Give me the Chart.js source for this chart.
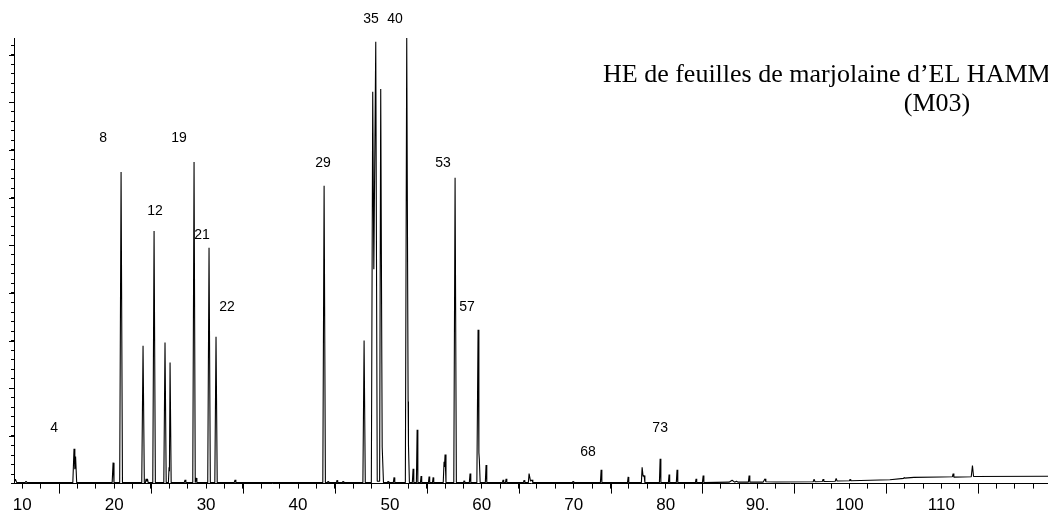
<!DOCTYPE html>
<html lang="fr">
  <head>
    <meta charset="UTF-8" />
    <title>HE de feuilles de marjolaine (M03)</title>
    <script src="https://cdn.jsdelivr.net/npm/chart.js"></script>
    <style>
      html, body {
        margin: 0;
        padding: 0;
        background: #fff;
        overflow: hidden;
      }
      canvas {
        display: block;
      }
    </style>
  </head>
  <body>
    <canvas id="chromChart" width="1048" height="523"></canvas>

    <script>
      // Retention time (min) and signal
      const rt = [
        9.1, 9.25, 9.4, 10.3, 10.41, 10.52,
        15.5, 15.63, 15.72, 15.8, 15.92, 19.78, 19.88, 19.98,
        20.6, 20.75, 20.9, 23.0, 23.14, 23.28, 23.4, 23.47, 23.55, 23.62, 23.7,
        24.2, 24.34, 24.48, 25.4, 25.53, 25.66, 25.9, 25.97, 26.01, 26.08, 26.2,
        27.62, 27.71, 27.8, 28.55, 28.69, 28.82, 28.91, 29.0, 30.18, 30.32, 30.46, 30.95, 31.08, 31.21, 33.06, 33.15, 33.24,
        42.7, 42.84, 42.98, 43.2, 43.27, 43.34, 44.18, 44.25, 44.32, 44.82, 44.9, 44.98,
        47.06, 47.19, 47.32, 47.98, 48.13, 48.25, 48.46, 48.62, 48.88, 49.0, 49.12, 49.16, 49.3,
        49.72, 49.8, 49.88, 50.37, 50.45, 50.53,
        51.68, 51.83, 51.98, 52.02, 52.12, 52.44, 52.52, 52.6, 52.88, 52.96, 53.04, 53.32, 53.39, 53.46,
        54.19, 54.26, 54.33, 54.63, 54.7, 54.77, 55.8, 55.89, 55.94, 56.0, 56.1,
        56.95, 57.09, 57.23, 58.0, 58.07, 58.14, 58.64, 58.72, 58.8,
        59.46, 59.59, 59.68, 59.73, 59.82, 60.38, 60.46, 60.54,
        62.24, 62.31, 62.38, 62.57, 62.64, 62.72, 64.52, 64.6, 64.68, 65.06, 65.14, 65.3, 65.47, 65.55,
        69.85, 69.93, 70.0, 72.9, 72.98, 73.06, 75.85, 75.92, 75.99,
        77.36, 77.44, 77.55, 77.66, 77.74, 79.32, 79.4, 79.48, 80.3, 80.37, 80.44, 81.16, 81.24, 81.32,
        83.24, 83.31, 83.38, 84.0, 84.08, 84.16, 86.9, 87.23, 87.5, 87.7, 87.9,
        89.0, 89.08, 89.16, 90.6, 90.75, 90.82, 90.9, 92.0,
        96.05, 96.15, 96.25, 97.05, 97.13, 97.21, 98.45, 98.55, 98.65, 100.0, 100.07, 100.14,
        104.4, 105.9, 105.95, 106.0, 107.0, 110.0, 111.2, 111.28, 111.36, 113.25, 113.38, 113.5, 121.6
      ];
      const abundance = [
        0.2, 0.9, 0.2, 0.2, 0.5, 0.2,
        0.2, 7.3, 3.0, 5.7, 0.2, 0.2, 4.4, 0.2,
        0.2, 65.4, 0.2, 0.2, 28.9, 0.2, 0.2, 1.0, 0.5, 1.0, 0.2,
        0.2, 53.0, 0.2, 0.2, 29.6, 0.2, 0.2, 3.4, 2.6, 25.4, 0.2,
        0.2, 0.8, 0.2, 0.2, 67.5, 0.2, 1.2, 0.2, 0.2, 49.5, 0.2, 0.2, 30.8, 0.2, 0.2, 0.8, 0.2,
        0.2, 62.5, 0.2, 0.2, 0.5, 0.2, 0.2, 0.7, 0.2, 0.2, 0.5, 0.2,
        0.2, 30.0, 0.2, 0.2, 82.2, 45.0, 92.7, 0.5, 0.5, 82.8, 25.2, 7.7, 0.2,
        0.2, 0.5, 0.2, 0.2, 1.3, 0.2,
        0.2, 93.5, 17.2, 8.0, 0.2, 0.2, 3.1, 0.2, 0.2, 11.3, 0.2, 0.2, 1.6, 0.2,
        0.2, 1.5, 0.2, 0.2, 1.3, 0.2, 0.2, 4.6, 3.5, 6.1, 0.2,
        0.2, 64.2, 0.2, 0.2, 0.6, 0.2, 0.2, 2.1, 0.2,
        0.2, 32.3, 6.5, 5.0, 0.2, 0.2, 3.9, 0.2,
        0.2, 0.8, 0.2, 0.2, 1.0, 0.2, 0.2, 0.7, 0.2, 0.2, 2.1, 0.5, 0.8, 0.2,
        0.2, 0.5, 0.2, 0.2, 2.9, 0.2, 0.2, 1.4, 0.2,
        0.2, 3.4, 1.5, 1.7, 0.2, 0.2, 5.2, 0.2, 0.2, 1.9, 0.2, 0.2, 2.9, 0.2,
        0.2, 1.0, 0.2, 0.2, 1.7, 0.2, 0.3, 0.7, 0.3, 0.5, 0.3,
        0.3, 1.7, 0.3, 0.3, 0.8, 1.0, 0.4, 0.35,
        0.4, 0.9, 0.4, 0.45, 0.95, 0.45, 0.5, 1.1, 0.55, 0.6, 0.9, 0.6,
        0.8, 1.1, 1.3, 1.15, 1.3, 1.4, 1.45, 2.1, 1.35, 1.45, 3.8, 1.5, 1.55
      ];

      // Peak numbers and where their labels sit (data units)
      const peakNames = ["4", "8", "12", "19", "21", "22", "29", "35", "40", "53", "57", "68", "73"];
      const peakLabelX = [13.46, 18.79, 24.45, 27.06, 29.56, 32.28, 42.73, 47.95, 50.56, 55.78, 58.4, 71.56, 79.4];
      const peakLabelY = [11.7, 72.5, 57.2, 72.5, 52.2, 37.1, 67.3, 97.5, 97.5, 67.3, 37.1, 6.7, 11.7];

      // Axis ticks
      const xMinorTicks = [];
      for (let v = 10; v <= 120; v += 2) xMinorTicks.push(v);
      const xMajorTicks = [14, 24, 34, 44, 54, 64, 74, 84, 94, 104, 114];
      const xTickValues = [10, 20, 30, 40, 50, 60, 70, 80, 90, 100, 110];
      const xTickLabels = ["10", "20", "30", "40", "50", "60", "70", "80", "90.", "100", "110"];
      const yMinorTicks = [];
      for (let v = 0; v <= 92; v += 2) yMinorTicks.push(v);
      const yMajorTicks = [10, 20, 30, 40, 50, 60, 70, 80, 90];

      const titleLines = ["HE de feuilles de marjolaine d\u2019EL HAMMAM", "(M03)"];

      // Longer major ticks, peak numbers and the title
      const overlay = {
        id: "overlay",
        afterDraw(chart) {
          const { ctx, chartArea } = chart;
          const xs = chart.scales.x;
          const ys = chart.scales.y;
          ctx.save();
          ctx.strokeStyle = "#000";
          ctx.lineWidth = 1;
          ctx.beginPath();
          xMajorTicks.forEach(v => {
            const px = Math.round(xs.getPixelForValue(v)) + 0.5;
            ctx.moveTo(px, chartArea.bottom);
            ctx.lineTo(px, chartArea.bottom + 10);
          });
          yMajorTicks.forEach(v => {
            const py = Math.round(ys.getPixelForValue(v)) + 0.5;
            ctx.moveTo(chartArea.left - 5, py);
            ctx.lineTo(chartArea.left, py);
          });
          ctx.stroke();

          ctx.fillStyle = "#000";
          ctx.font = '14px "Liberation Sans", Arial, sans-serif';
          ctx.textAlign = "center";
          ctx.textBaseline = "middle";
          peakNames.forEach((name, i) => {
            ctx.fillText(name, xs.getPixelForValue(peakLabelX[i]), ys.getPixelForValue(peakLabelY[i]));
          });

          ctx.font = '26px "Liberation Serif", "Times New Roman", serif';
          ctx.textBaseline = "alphabetic";
          ctx.textAlign = "left";
          ctx.fillText(titleLines[0], 603, 82);
          ctx.textAlign = "center";
          ctx.fillText(titleLines[1], 937, 111);
          ctx.restore();
        }
      };

      const ctx = document.getElementById("chromChart").getContext("2d");
      new Chart(ctx, {
        type: "line",
        data: {
          datasets: [
            {
              data: rt.map((t, i) => ({ x: t, y: abundance[i] })),
              borderColor: "#000",
              borderWidth: 1.1,
              borderJoinStyle: "bevel",
              pointRadius: 0,
              tension: 0,
              fill: false
            }
          ]
        },
        options: {
          responsive: false,
          animation: false,
          devicePixelRatio: 1,
          layout: { padding: { top: 38, left: 11, right: 0, bottom: 0 } },
          plugins: {
            legend: { display: false },
            tooltip: { enabled: false }
          },
          scales: {
            x: {
              type: "linear",
              min: 9.1,
              max: 121.6,
              border: { display: true, color: "#000", width: 1 },
              grid: { drawOnChartArea: false, drawTicks: true, tickLength: 5, color: "#000" },
              afterBuildTicks: scale => {
                scale.ticks = xMinorTicks.map(v => ({ value: v }));
              },
              ticks: {
                autoSkip: false,
                maxRotation: 0,
                padding: 7,
                color: "#000",
                font: { family: '"Liberation Sans", Arial, sans-serif', size: 17 },
                callback: value => {
                  const i = xTickValues.indexOf(value);
                  return i >= 0 ? xTickLabels[i] : "";
                }
              }
            },
            y: {
              type: "linear",
              min: 0,
              max: 93.5,
              border: { display: true, color: "#000", width: 1 },
              grid: { drawOnChartArea: false, drawTicks: true, tickLength: 3, color: "#000" },
              afterBuildTicks: scale => {
                scale.ticks = yMinorTicks.map(v => ({ value: v }));
              },
              ticks: { display: false }
            }
          }
        },
        plugins: [overlay]
      });
    </script>
  </body>
</html>
